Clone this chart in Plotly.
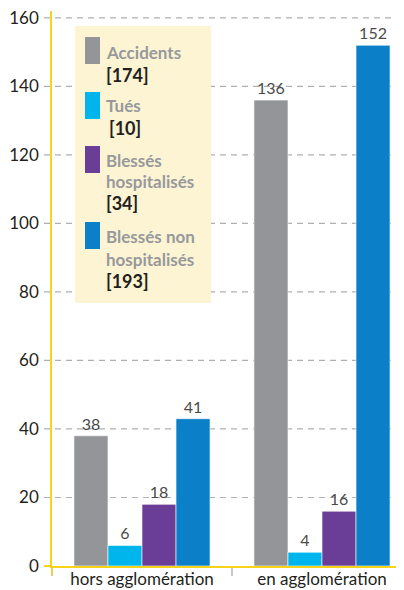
import plotly.graph_objects as go

categories = ["hors agglomération", "en agglomération"]
series = ["Accidents", "Tués", "Blessés hospitalisés", "Blessés non hospitalisés"]
legend_lines = [["Accidents"], ["Tués"], ["Blessés", "hospitalisés"], ["Blessés non", "hospitalisés"]]
colors = ["#939598", "#00b4ec", "#6a3d97", "#0b80c8"]
# drawn bar heights and the printed labels
heights_hors = [38, 6, 18, 43]
heights_en = [136, 4, 16, 152]
labels_hors = ["38", "6", "18", "41"]
labels_en = ["136", "4", "16", "152"]
totals = ["[174]", "[10]", "[34]", "[193]"]
y_ticks = [0, 20, 40, 60, 80, 100, 120, 140, 160]
Y_MAX = 162

OFF = 8  # page body margin
W, H = 404 - OFF, 590 - OFF
ML, MR, MT, MB = 52 - OFF, 0, 11 - OFF, 24
PW, PH = W - ML - MR, H - MT - MB
FONT = "Lato, Open Sans, sans-serif"

def px(x):  # page pixel -> paper x
    return (x - OFF - ML) / PW

def py(y):  # page pixel -> paper y
    return (H - MB - (y - OFF)) / PH

fig = go.Figure()
for i, s in enumerate(series):
    fig.add_trace(go.Bar(
        x=categories,
        y=[heights_hors[i], heights_en[i]],
        text=[labels_hors[i], labels_en[i]],
        textposition="outside",
        textfont=dict(family=FONT, size=16, color="#4a4a4a"),
        marker=dict(color=colors[i], line=dict(color="#ffffff", width=0.6)),
        name=s,
        cliponaxis=False,
        showlegend=False,
    ))

top_bar = max(heights_hors + heights_en)
shapes = []
annotations = []
# dashed gridlines (with their outside tick part), drawn from the tick values
for v in y_ticks[1:]:
    shapes.append(dict(type="line", xref="paper", yref="paper",
                       x0=px(44), x1=1, y0=v / Y_MAX, y1=v / Y_MAX,
                       line=dict(color="#b0b0b0", width=1.2, dash="6px,5px"),
                       layer="above" if v > top_bar + 5 else "below"))
# legend box
shapes.append(dict(type="rect", xref="paper", yref="paper",
                   x0=px(75), x1=px(211), y0=py(303), y1=py(26),
                   fillcolor="#fdf4d3", line=dict(width=0), layer="above"))
sw_tops = [37, 92, 146, 222]
text_y = [[52, 75], [105, 128], [160, 182, 203], [237, 259, 281]]
for i in range(len(series)):
    t = sw_tops[i]
    shapes.append(dict(type="rect", xref="paper", yref="paper",
                       x0=px(85), x1=px(100), y0=py(t + 27), y1=py(t),
                       fillcolor=colors[i], line=dict(width=0), layer="above"))
    lines = legend_lines[i]
    for j, ln in enumerate(lines):
        annotations.append(dict(xref="paper", yref="paper", x=px(104), y=py(text_y[i][j]),
                                text="<b>" + ln + "</b>", showarrow=False,
                                xanchor="left", yanchor="middle",
                                font=dict(family=FONT, size=17, color="#97999c")))
    xoff = 107 if i == 1 else 104
    annotations.append(dict(xref="paper", yref="paper", x=px(xoff), y=py(text_y[i][len(lines)]),
                            text="<b>" + totals[i] + "</b>", showarrow=False,
                            xanchor="left", yanchor="middle",
                            font=dict(family=FONT, size=18, color="#231f20")))

# yellow extension of y axis below 0 and yellow zero tick
shapes.append(dict(type="line", xref="paper", yref="paper", x0=0, x1=0,
                   y0=py(575), y1=py(566), line=dict(color="#f7d417", width=1.5), layer="above"))
shapes.append(dict(type="line", xref="paper", yref="paper", x0=px(44), x1=0,
                   y0=0, y1=0, line=dict(color="#f7d417", width=2), layer="above"))

fig.update_layout(
    width=W, height=H,
    margin=dict(l=ML, r=MR, t=MT, b=MB),
    paper_bgcolor="white", plot_bgcolor="rgba(0,0,0,0)",
    barmode="group", bargap=0.244, bargroupgap=0,
    shapes=shapes, annotations=annotations,
    font=dict(family=FONT),
)
fig.update_xaxes(
    range=[-0.5, -0.5 + PW / 180.0],
    showline=True, linecolor="#f7d417", linewidth=2,
    ticks="outside", tickson="boundaries", ticklen=8, tickcolor="#c8c8c8", tickwidth=1.5,
    tickfont=dict(size=17, color="#231f20"),
    ticklabelstandoff=-3, ticklabeloverflow="allow",
    showgrid=False, zeroline=False, automargin=False,
)
fig.update_yaxes(
    range=[0, Y_MAX],
    tickvals=y_ticks,
    showline=True, linecolor="#f7d417", linewidth=1.5,
    ticks="", ticklabelstandoff=8,
    tickfont=dict(size=17, color="#231f20"),
    ticklabeloverflow="allow",
    showgrid=False, zeroline=False, automargin=False,
)

fig.write_html("out.html", config={"displayModeBar": False})
